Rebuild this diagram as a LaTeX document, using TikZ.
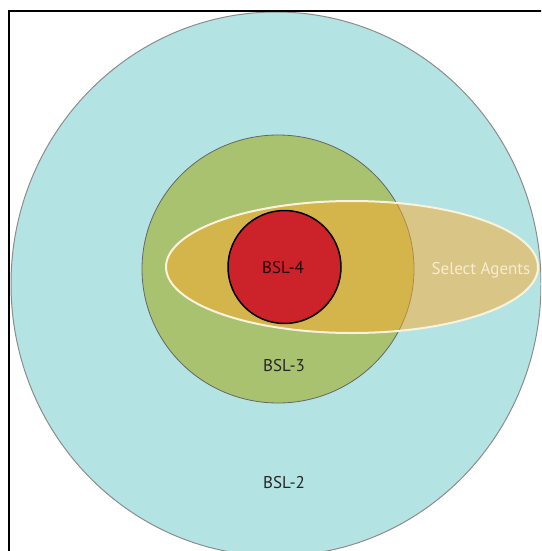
\documentclass[tikz,border=0pt]{standalone}
\usepackage{fontspec}
\setmainfont{PT Sans}
\definecolor{bslblue}{RGB}{179,228,227}
\definecolor{bslgreen}{RGB}{169,194,111}
\definecolor{bslred}{RGB}{204,34,41}
\definecolor{agentfill}{RGB}{255,170,42}
\definecolor{agentline}{RGB}{250,242,220}
\definecolor{agenttext}{RGB}{246,236,210}
\definecolor{labeltext}{RGB}{38,38,38}
\tikzset{
  lbl/.style={font=\fontsize{17}{20}\selectfont, text=labeltext, inner sep=0pt},
}
\begin{document}
\begin{tikzpicture}[x=1pt,y=-1pt]
\useasboundingbox (0,0) rectangle (541,551);
\begin{scope}
\clip (0,0) rectangle (541,551);
% BSL-2
\draw[fill=bslblue, draw=black!45, line width=1pt] (276,284) ellipse [x radius=265pt, y radius=272pt];
% BSL-3
\draw[fill=bslgreen, draw=black!60, line width=0.8pt] (278,269) ellipse [x radius=136pt, y radius=134pt];
% Select agents
\fill[agentfill, fill opacity=0.5] (352,267) ellipse [x radius=186pt, y radius=66pt];
\draw[agentline, line width=2pt] (352,267) ellipse [x radius=186pt, y radius=66pt];
% BSL-4
\draw[fill=bslred, draw=black, line width=1.5pt] (284.5,267) circle [radius=56.5pt];
% frame
\draw[black, line width=2.6pt] (9,560) -- (9,11) -- (550,11);
\end{scope}
\node[lbl, text=black!85!red] (bsl4) at (283,268) {BSL-4};
\node[lbl] (bsl3) at (284,366) {BSL-3};
\node[lbl] (bsl2) at (284,483) {BSL-2};
\node[lbl, text=agenttext] (agents) at (481,270) {Select Agents};
\end{tikzpicture}
\end{document}
